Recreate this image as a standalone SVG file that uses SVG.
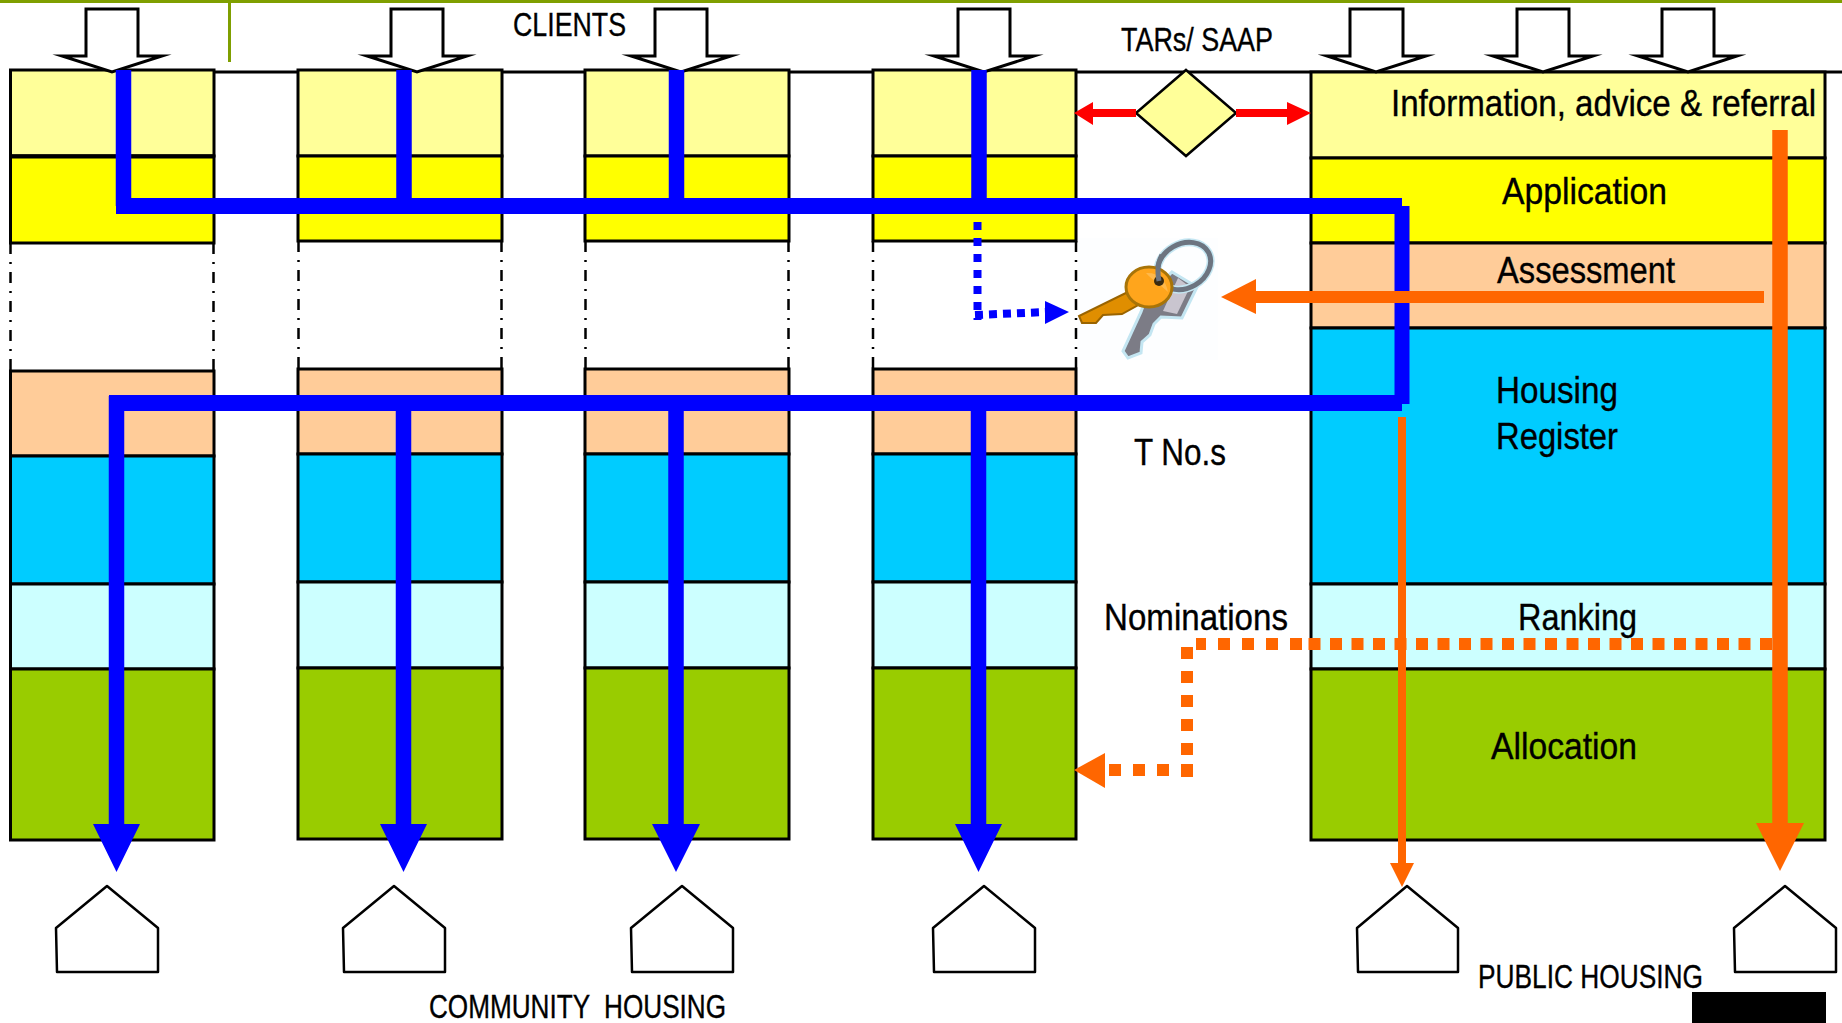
<svg xmlns="http://www.w3.org/2000/svg" width="1842" height="1023" viewBox="0 0 1842 1023">
<style>
.s{stroke:#000;stroke-width:3}
.a{fill:#FFFF99}.b{fill:#FFFF00}.c{fill:#FFCC99}.d{fill:#00CCFF}.e{fill:#CCFFFF}.f{fill:#99CC00}
.dd{stroke:#000;stroke-width:2.5;stroke-dasharray:11 8 2 8;fill:none}
.o{fill:#fff;stroke:#000;stroke-width:3;stroke-miterlimit:12}
.h{fill:#fff;stroke:#000;stroke-width:2.5;stroke-linejoin:round}
.t{font-family:"Liberation Sans",Arial,sans-serif;fill:#000;stroke:#000;stroke-width:.35;white-space:pre}
.t1{font-size:37px}.t2{font-size:33px}
.bl{stroke:#0000FF;fill:none}.or{stroke:#FF6600;fill:none}
.hb{fill:#0000FF}.ho{fill:#FF6600}.hr{fill:#FF0000}
</style>
<rect width="1842" height="1023" fill="#fff"/>
<g id="frame">
<rect x="0" y="0" width="1842" height="3" fill="#7F9F00"/>
<rect x="228" y="3" width="3" height="59" fill="#7F9F00"/>
<line x1="214" y1="72" x2="1842" y2="72" stroke="#000" stroke-width="3"/>
</g>
<g id="column-1">
<rect class="a s" x="10.500" y="70" width="203.500" height="86"/>
<rect class="b s" x="10.500" y="156" width="203.500" height="87"/>
<path class="dd" d="M10.500 243V371M213.500 243V371"/>
<rect class="c s" x="10.500" y="371" width="203.500" height="85"/>
<rect class="d s" x="10.500" y="456" width="203.500" height="128"/>
<rect class="e s" x="10.500" y="584" width="203.500" height="85"/>
<rect class="f s" x="10.500" y="669" width="203.500" height="171"/>
<line x1="10" y1="156.500" x2="214" y2="156.500" stroke="#000" stroke-width="4"/>
</g>
<g id="column-2">
<rect class="a s" x="298" y="70" width="204" height="86"/>
<rect class="b s" x="298" y="156" width="204" height="85"/>
<path class="dd" d="M298.500 241V369M501.500 241V369"/>
<rect class="c s" x="298" y="369" width="204" height="85"/>
<rect class="d s" x="298" y="454" width="204" height="128"/>
<rect class="e s" x="298" y="582" width="204" height="86"/>
<rect class="f s" x="298" y="668" width="204" height="171"/>
</g>
<g id="column-3">
<rect class="a s" x="585" y="70" width="204" height="86"/>
<rect class="b s" x="585" y="156" width="204" height="85"/>
<path class="dd" d="M585.500 241V369M788.500 241V369"/>
<rect class="c s" x="585" y="369" width="204" height="85"/>
<rect class="d s" x="585" y="454" width="204" height="128"/>
<rect class="e s" x="585" y="582" width="204" height="86"/>
<rect class="f s" x="585" y="668" width="204" height="171"/>
</g>
<g id="column-4">
<rect class="a s" x="873" y="70" width="203" height="86"/>
<rect class="b s" x="873" y="156" width="203" height="85"/>
<path class="dd" d="M873 241V369M1076 241V369"/>
<rect class="c s" x="873" y="369" width="203" height="85"/>
<rect class="d s" x="873" y="454" width="203" height="128"/>
<rect class="e s" x="873" y="582" width="203" height="86"/>
<rect class="f s" x="873" y="668" width="203" height="171"/>
</g>
<g id="public-column">
<rect class="a s" x="1311" y="72" width="514" height="86"/>
<rect class="b s" x="1311" y="158" width="514" height="85"/>
<rect class="c s" x="1311" y="243" width="514" height="85"/>
<rect class="d s" x="1311" y="328" width="514" height="256"/>
<rect class="e s" x="1311" y="584" width="514" height="85"/>
<rect class="f s" x="1311" y="669" width="514" height="171"/>
</g>
<g id="arrow-in-1"><path class="o" d="M86 9H138V56H162L112 72L62 56H86Z"/></g>
<g id="arrow-in-2"><path class="o" d="M391 9H443V56H467L417 72L367 56H391Z"/></g>
<g id="arrow-in-3"><path class="o" d="M655 9H707V56H731L681 72L631 56H655Z"/></g>
<g id="arrow-in-4"><path class="o" d="M958 9H1010V56H1034L984 72L934 56H958Z"/></g>
<g id="arrow-in-5"><path class="o" d="M1350 9H1403V56H1426L1376 72L1327 56H1350Z"/></g>
<g id="arrow-in-6"><path class="o" d="M1517 9H1569V56H1593L1543 72L1493 56H1517Z"/></g>
<g id="arrow-in-7"><path class="o" d="M1662 9H1714V56H1737L1688 72L1638 56H1662Z"/></g>
<g id="tars-diamond"><path class="a" stroke="#000" stroke-width="2.500" d="M1186 70L1236 113L1186 156L1136 113Z"/></g>
<g id="keys">
<rect x="1078" y="238" width="140" height="122" fill="#FDFEFF"/>
<path fill="#7C7C86" stroke="#C4E6F2" stroke-width="3" d="M1172 272L1197 287L1182 318L1161 317L1154 324L1150 335L1142 342L1141 353L1128 358L1123 351L1141 312L1146 298Z"/>
<path fill="#C9C5CF" d="M1178 278L1190 287L1177 314L1163 311Z"/>
<ellipse cx="1184" cy="266" rx="28" ry="22" transform="rotate(-30 1184 266)" fill="none" stroke="#C4E6F2" stroke-width="8"/>
<ellipse cx="1184" cy="266" rx="28" ry="22" transform="rotate(-30 1184 266)" fill="none" stroke="#6C7480" stroke-width="5"/>
<path fill="#E08E00" stroke="#9A6400" stroke-width="2" d="M1134 289L1079 316L1082 323L1096 323L1103 315L1122 314L1140 304Z"/>
<ellipse cx="1149" cy="287" rx="23" ry="20" fill="#FFA51C" stroke="#A87408" stroke-width="3"/>
<path fill="#FFB84A" d="M1146 273C1158 272 1166 280 1168 292C1160 284 1152 280 1146 273Z"/>
<circle cx="1159" cy="281" r="5" fill="#3A2A10"/>
<path d="M1159 281C1157 271 1158 262 1162 255" fill="none" stroke="#6C7480" stroke-width="5"/>
</g>
<g id="connectors">
<path class="bl" stroke-width="15.500" d="M123.500 70V206M404 70V206M676.500 70V206M979 70V206"/>
<path class="bl" stroke-width="16" d="M116 206H1402M109 403H1402"/>
<path class="bl" stroke-width="15" d="M1402 206V404"/>
<path class="bl" stroke-width="15.500" d="M116.500 396V826M403.500 403V826M676 403V826M978.500 403V826"/>
<path class="hb" d="M93 824H140L116.500 872ZM380 824H427L403.500 872ZM652 824H700L676 872ZM955 824H1002L978.500 872Z"/>
<path class="bl" stroke-width="8" stroke-dasharray="8 8" d="M977.500 222V320"/>
<path class="bl" stroke-width="8" stroke-dasharray="8 6" d="M975 315L1046 312"/>
<path class="hb" d="M1045 301L1069 312L1045 324Z"/>
<path class="hr" d="M1136 109H1093V102L1074 113L1093 125V117H1136Z"/>
<path class="hr" d="M1236 109H1287V102L1311 113L1287 125V117H1236Z"/>
<path class="or" stroke-width="15.500" d="M1780 130V825"/>
<path class="ho" d="M1756 823H1804L1780 871Z"/>
<path class="or" stroke-width="12" d="M1764 297H1255"/>
<path class="ho" d="M1256 279L1221 297L1256 314Z"/>
<path class="or" stroke-width="8" d="M1402 417V865"/>
<path class="ho" d="M1390 863H1414L1402 887Z"/>
<path class="or" stroke-width="12" stroke-dasharray="12 9.500" d="M1772 644H1302"/>
<path class="or" stroke-width="12" stroke-dasharray="12 12" d="M1302 644H1196"/>
<path class="or" stroke-width="12" stroke-dasharray="12 12" d="M1187 647V777"/>
<path class="or" stroke-width="12" stroke-dasharray="12 12" d="M1193 770H1105"/>
<path class="ho" d="M1105 753L1074 770L1105 788Z"/>
</g>
<g id="house-1"><path class="h" d="M56 928L107 886L158 928V972H57Z"/></g>
<g id="house-2"><path class="h" d="M343 928L394 886L445 928V972H344Z"/></g>
<g id="house-3"><path class="h" d="M631 928L682 886L733 928V972H632Z"/></g>
<g id="house-4"><path class="h" d="M933 928L984 886L1035 928V972H934Z"/></g>
<g id="house-5"><path class="h" d="M1357 928L1407 886L1458 928V972H1358Z"/></g>
<g id="house-6"><path class="h" d="M1734 928L1785 886L1836 928V972H1735Z"/></g>
<rect id="black-block" x="1692" y="992" width="134" height="31" fill="#000"/>
<g id="labels">
<text class="t t2" x="513" y="36" textLength="113" lengthAdjust="spacingAndGlyphs">CLIENTS</text>
<text class="t t2" x="1121" y="51" textLength="152" lengthAdjust="spacingAndGlyphs">TARs/ SAAP</text>
<text class="t t1" transform="translate(1391 116) scale(.895 1)">Information, advice &amp; referral</text>
<text class="t t1" x="1502" y="204" textLength="165" lengthAdjust="spacingAndGlyphs">Application</text>
<text class="t t1" x="1497" y="283" textLength="178" lengthAdjust="spacingAndGlyphs">Assessment</text>
<text class="t t1" x="1496" y="403" textLength="122" lengthAdjust="spacingAndGlyphs">Housing</text>
<text class="t t1" x="1496" y="449" textLength="122" lengthAdjust="spacingAndGlyphs">Register</text>
<text class="t t1" x="1134" y="465" textLength="92" lengthAdjust="spacingAndGlyphs">T No.s</text>
<text class="t t1" x="1104" y="630" textLength="184" lengthAdjust="spacingAndGlyphs">Nominations</text>
<text class="t t1" x="1518" y="630" textLength="119" lengthAdjust="spacingAndGlyphs">Ranking</text>
<text class="t t1" x="1491" y="759" textLength="146" lengthAdjust="spacingAndGlyphs">Allocation</text>
<text class="t t2" x="1478" y="988" textLength="225" lengthAdjust="spacingAndGlyphs">PUBLIC HOUSING</text>
<text class="t t2" x="429" y="1018" textLength="297" lengthAdjust="spacingAndGlyphs">COMMUNITY  HOUSING</text>
</g>
</svg>
